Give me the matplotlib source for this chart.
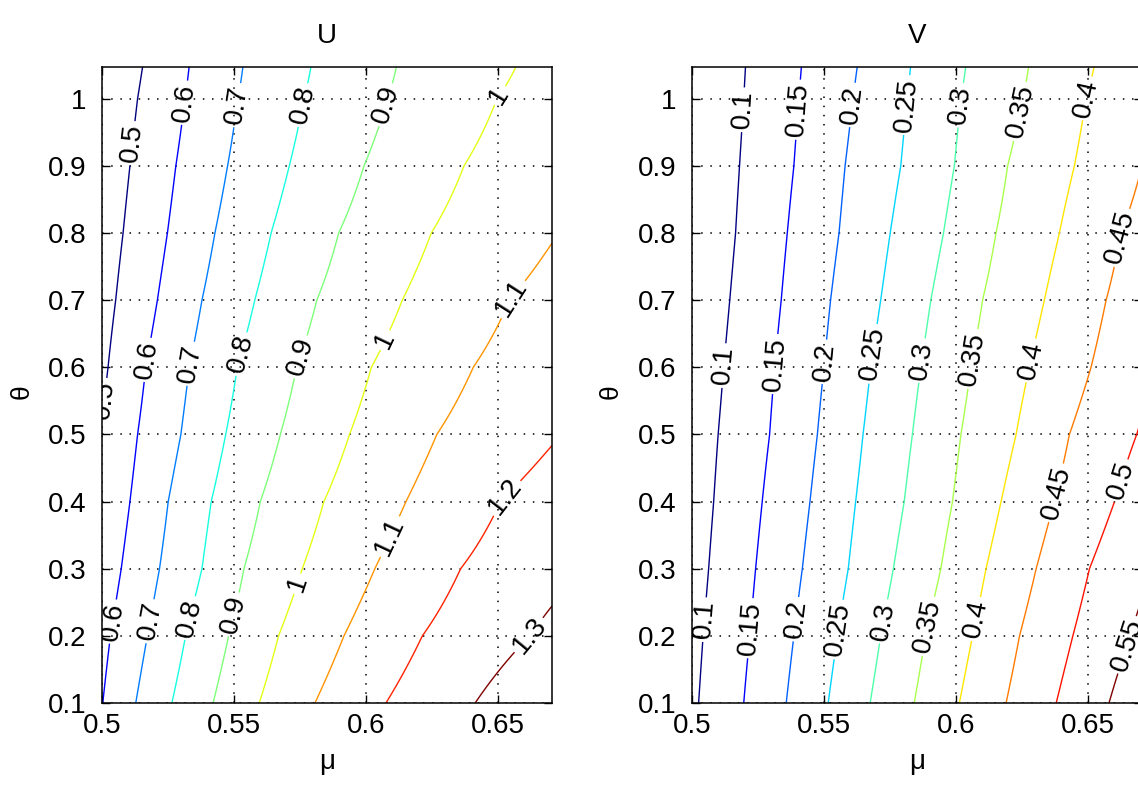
import matplotlib.pyplot as plt
import numpy as np

plt.rcParams['font.family'] = ['Liberation Sans', 'DejaVu Sans']

# theta rows at which the contour crossings were read
theta = [0.1, 0.2, 0.3, 0.4, 0.5, 0.6, 0.7, 0.8, 0.9, 1.0, 1.05]

# U: mu position of each contour level on every theta row
u_levels = [0.5, 0.6, 0.7, 0.8, 0.9, 1.0, 1.1, 1.2, 1.3]
u_050 = [0.4870, 0.4900, 0.4935, 0.4965, 0.4994, 0.5023, 0.5052, 0.5080, 0.5106, 0.5135, 0.5155]
u_060 = [0.5003, 0.5032, 0.5073, 0.5106, 0.5135, 0.5166, 0.5210, 0.5248, 0.5280, 0.5315, 0.5331]
u_070 = [0.5128, 0.5172, 0.5218, 0.5251, 0.5299, 0.5331, 0.5379, 0.5428, 0.5476, 0.5515, 0.5535]
u_080 = [0.5265, 0.5317, 0.5379, 0.5414, 0.5469, 0.5513, 0.5579, 0.5641, 0.5710, 0.5766, 0.5793]
u_090 = [0.5421, 0.5480, 0.5538, 0.5600, 0.5676, 0.5738, 0.5814, 0.5897, 0.5993, 0.6083, 0.6117]
u_100 = [0.5596, 0.5669, 0.5759, 0.5841, 0.5938, 0.6021, 0.6138, 0.6248, 0.6372, 0.6497, 0.6572]
u_110 = [0.5807, 0.5917, 0.6034, 0.6152, 0.6269, 0.6407, 0.6545, 0.6730, 0.6900, 0.7070, 0.7160]
u_120 = [0.6076, 0.6214, 0.6359, 0.6510, 0.6740, 0.6920, 0.7100, 0.7280, 0.7460, 0.7640, 0.7730]
u_130 = [0.6414, 0.6621, 0.6826, 0.7030, 0.7220, 0.7410, 0.7600, 0.7790, 0.7980, 0.8170, 0.8260]

# V
v_levels = [0.1, 0.15, 0.2, 0.25, 0.3, 0.35, 0.4, 0.45, 0.5, 0.55]
v_010 = [0.5025, 0.5042, 0.5063, 0.5082, 0.5099, 0.5120, 0.5143, 0.5165, 0.5180, 0.5196, 0.5203]
v_015 = [0.5196, 0.5219, 0.5241, 0.5266, 0.5294, 0.5313, 0.5338, 0.5361, 0.5386, 0.5405, 0.5415]
v_020 = [0.5357, 0.5386, 0.5418, 0.5447, 0.5475, 0.5500, 0.5525, 0.5557, 0.5580, 0.5610, 0.5627]
v_025 = [0.5516, 0.5551, 0.5592, 0.5620, 0.5648, 0.5677, 0.5715, 0.5751, 0.5791, 0.5815, 0.5829]
v_030 = [0.5675, 0.5715, 0.5763, 0.5804, 0.5835, 0.5867, 0.5905, 0.5953, 0.5994, 0.6019, 0.6038]
v_035 = [0.5842, 0.5886, 0.5943, 0.5987, 0.6019, 0.6057, 0.6101, 0.6152, 0.6196, 0.6255, 0.6277]
v_040 = [0.6013, 0.6063, 0.6114, 0.6171, 0.6228, 0.6278, 0.6335, 0.6392, 0.6449, 0.6494, 0.6525]
v_045 = [0.6190, 0.6241, 0.6304, 0.6373, 0.6430, 0.6512, 0.6569, 0.6625, 0.6705, 0.6780, 0.6820]
v_050 = [0.6380, 0.6443, 0.6506, 0.6601, 0.6685, 0.6770, 0.6860, 0.6950, 0.7040, 0.7130, 0.7170]
v_055 = [0.6580, 0.6660, 0.6745, 0.6830, 0.6920, 0.7010, 0.7100, 0.7190, 0.7280, 0.7370, 0.7410]

x_ticks = [0.5, 0.55, 0.6, 0.65]
x_ticklabels = ['0.5', '0.55', '0.6', '0.65']
y_ticks = [0.1, 0.2, 0.3, 0.4, 0.5, 0.6, 0.7, 0.8, 0.9, 1.0]
y_ticklabels = ['0.1', '0.2', '0.3', '0.4', '0.5', '0.6', '0.7', '0.8', '0.9', '1']


def build_field(mu, crossings, levels):
    # grid of values for contour(), from the read crossing positions
    Z = np.empty((len(theta), len(mu)))
    for i in range(len(theta)):
        c = [row[i] for row in crossings]
        lv = list(levels)
        c = [2 * c[0] - c[1]] + c + [2 * c[-1] - c[-2]]
        lv = [2 * lv[0] - lv[1]] + lv + [2 * lv[-1] - lv[-2]]
        Z[i] = np.interp(mu, c, lv)
    return Z


mu = np.linspace(0.5, 0.6705, 500)
ZU = build_field(mu, [u_050, u_060, u_070, u_080, u_090, u_100, u_110, u_120, u_130], u_levels)
ZV = build_field(mu, [v_010, v_015, v_020, v_025, v_030, v_035, v_040, v_045, v_050, v_055], v_levels)

fig = plt.figure(figsize=(11.38, 7.87), dpi=100)
ax1 = fig.add_axes([0.0896, 0.1067, 0.3954, 0.8081])
ax2 = fig.add_axes([0.6081, 0.1067, 0.3954, 0.8081])

u_label_pos = [(0.5124, 0.933), (0.5028, 0.55),
               (0.5331, 0.993), (0.5186, 0.61), (0.5062, 0.22),
               (0.5517, 0.99), (0.5338, 0.605), (0.5193, 0.221),
               (0.5766, 0.99), (0.5552, 0.617), (0.5359, 0.224),
               (0.6083, 0.99), (0.5779, 0.612), (0.5510, 0.231),
               (0.6524, 1.0), (0.6090, 0.637), (0.5745, 0.277),
               (0.6559, 0.70), (0.6090, 0.348),
               (0.6545, 0.40), (0.6621, 0.20)]
v_label_pos = [(0.5209, 0.983), (0.5133, 0.602), (0.5051, 0.224),
               (0.5418, 0.983), (0.5335, 0.604), (0.5234, 0.211),
               (0.5620, 0.99), (0.5532, 0.607), (0.5411, 0.224),
               (0.5823, 0.99), (0.5703, 0.619), (0.5563, 0.209),
               (0.6025, 0.99), (0.5886, 0.609), (0.5734, 0.221),
               (0.6253, 0.98), (0.6070, 0.612), (0.5899, 0.214),
               (0.6500, 1.0), (0.6285, 0.61), (0.6089, 0.224),
               (0.6627, 0.793), (0.6380, 0.413),
               (0.6633, 0.43), (0.6646, 0.187)]

for ax, Z, levels, pos, title in [(ax1, ZU, u_levels, u_label_pos, 'U'),
                                  (ax2, ZV, v_levels, v_label_pos, 'V')]:
    cs = ax.contour(mu, theta, Z, levels=levels, cmap='jet',
                    vmin=levels[0], vmax=levels[-1], linewidths=1.0)
    ax.clabel(cs, levels, inline=True, fmt='%g', fontsize=20, colors='k',
              manual=pos, inline_spacing=3)
    ax.set_xlim(0.5, 0.6705)
    ax.set_ylim(0.1, 1.047)
    ax.set_xticks(x_ticks)
    ax.set_xticklabels(x_ticklabels)
    ax.set_yticks(y_ticks)
    ax.set_yticklabels(y_ticklabels)
    ax.grid(True, color='k', linestyle=(0, (1, 5)), linewidth=1.1)
    ax.tick_params(direction='in', top=True, right=True, length=6,
                   width=1, labelsize=20, colors='k')
    ax.tick_params(axis='x', pad=7)
    ax.tick_params(axis='y', pad=11)
    for s in ax.spines.values():
        s.set_linewidth(1.1)
    ax.set_title(title, fontsize=20, pad=17)
    ax.set_xlabel('μ', fontsize=20, va='center')
    ax.xaxis.set_label_coords(0.5, -0.093)
    ax.set_ylabel('θ', fontsize=19, va='center')

ax1.yaxis.set_label_coords(-0.178, 0.49)
ax2.yaxis.set_label_coords(-0.18, 0.49)

fig.savefig('out.png', dpi=100)
